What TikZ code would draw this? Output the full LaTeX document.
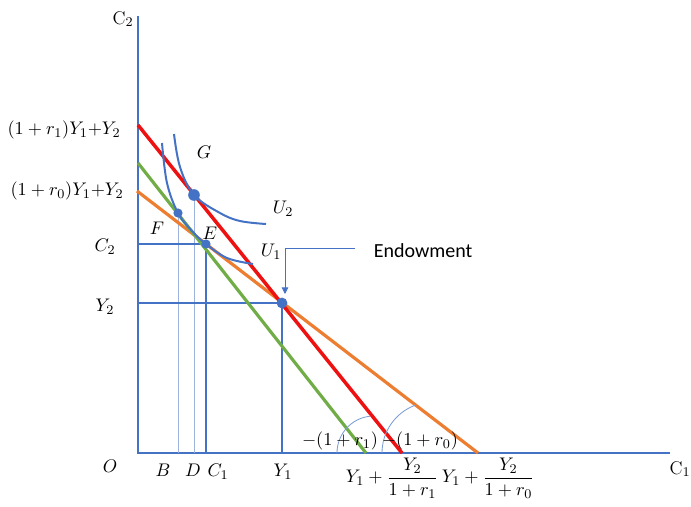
\documentclass[tikz,border=0pt]{standalone}
\usepackage{amsmath}
\usepackage{fontspec}
\newfontfamily\calibri{Carlito}
\usepackage{tikz}
\usetikzlibrary{arrows.meta}
\definecolor{axisblue}{HTML}{4472C4}
\definecolor{guideblue}{HTML}{9DB3DE}
\definecolor{budgetred}{HTML}{EE1111}
\definecolor{budgetgreen}{HTML}{70AD47}
\definecolor{budgetorange}{HTML}{ED7D31}

\begin{document}
\begin{tikzpicture}[x=0.6pt, y=-0.6pt,
  lbl/.style={font=\fontsize{11}{13}\selectfont, inner sep=1pt},
  guide/.style={guideblue, line width=0.6pt},
  dropline/.style={axisblue, line width=0.8pt},
  indiff/.style={axisblue, line width=1.2pt},
  budget/.style={line width=1.9pt},
  dot/.style={circle, fill=axisblue, inner sep=0pt, minimum size=5.5pt}]
\useasboundingbox (0,0) rectangle (691,507);
% -- axes --
\coordinate (O) at (138,453);
\coordinate (ytop) at (138,16);
\coordinate (xend) at (670,453);
\draw[axisblue, line width=1.5pt] (ytop) -- (O) -- (xend);
\node[lbl] (c2axis) at (123,19) {$\mathrm{C}_2$};
\node[lbl] (c1axis) at (680,469) {$\mathrm{C}_1$};
\node[lbl] (olbl) at (110,466) {$O$};
% -- budget lines --
\coordinate (redtop) at (138,125);
\coordinate (redbot) at (402,453);
\coordinate (greentop) at (138,163);
\coordinate (greenbot) at (366,453);
\coordinate (orangetop) at (137,191);
\coordinate (orangebot) at (478,453);
\coordinate (endow) at (282,303);
\coordinate (E) at (206,244);
\coordinate (F) at (178,213);
\coordinate (G) at (194,195);
% -- guide lines --
\draw[guide] (F) -- (F |- O);
\draw[guide] (G) -- (G |- O);
\draw[dropline] (E) -- (E |- O);
\draw[dropline] (E) -- (E -| O);
\draw[dropline] (endow) -- (endow |- O);
\draw[dropline] (endow) -- (endow -| O);
\draw[budget, budgetorange] (orangetop) -- (orangebot);
\draw[budget, budgetgreen] (greentop) -- (greenbot);
\draw[budget, budgetred, line width=2.1pt] (redtop) -- (redbot);
% -- indifference curves --
\draw[indiff] plot[smooth, tension=0.6] coordinates {(162,143) (167,183) (F) (193,232) (E) (227,258) (253,264)};
\draw[indiff] plot[smooth, tension=0.6] coordinates {(174,134) (180,167) (G) (220,213) (240,221) (266,224)};
% -- slope arcs --
\draw[guide, line width=0.5pt, axisblue!70] (337,453) arc[start angle=180, end angle=264, radius=37];
\draw[guide, line width=0.5pt, axisblue!70] (382,453) arc[start angle=180, end angle=249.4, radius=51];
% -- points --
\node[dot] (Edot) at (E) {};
\node[dot] (Fdot) at (F) {};
\node[dot, minimum size=7pt] (Gdot) at (G) {};
\node[dot, minimum size=6.5pt] (endowdot) at (endow) {};
% -- endowment callout --
\coordinate (calloutend) at (355,248);
\coordinate (calloutbend) at (285,248);
\coordinate (callouttip) at (285,294);
\draw[axisblue, line width=0.5pt, -{Triangle[length=4pt, width=4pt]}] (calloutend) -- (calloutbend) -- (callouttip);
\node[font=\calibri\fontsize{12}{14}\selectfont, anchor=west] (endowlbl) at (368,251) {Endowment};
% -- labels --
\node[lbl] (Glbl) at (204,152) {$G$};
\node[lbl] (Flbl) at (157,228) {$F$};
\node[lbl] (Elbl) at (210,233) {$E$};
\node[lbl] (U2lbl) at (283,209) {$U_2$};
\node[lbl] (U1lbl) at (271,252) {$U_1$};
\node[lbl] (r1int) at (64,130) {$(1+r_1)Y_1{+}Y_2$};
\node[lbl] (r0int) at (67,191) {$(1+r_0)Y_1{+}Y_2$};
\node[lbl] (c2lbl) at (105,247) {$C_2$};
\node[lbl] (y2lbl) at (105,307) {$Y_2$};
\node[lbl] (Blbl) at (163,470) {$B$};
\node[lbl] (Dlbl) at (193,470) {$D$};
\node[lbl] (c1lbl) at (218,472) {$C_1$};
\node[lbl] (y1lbl) at (283,472) {$Y_1$};
\node[lbl] (slope1) at (340,441) {$-(1+r_1)$};
\node[lbl] (slope0) at (420,441) {$-(1+r_0)$};
\node[lbl] (pv1) at (392,478) {$Y_1+\dfrac{Y_2}{1+r_1}$};
\node[lbl] (pv0) at (488,478) {$Y_1+\dfrac{Y_2}{1+r_0}$};
\end{tikzpicture}
\end{document}
